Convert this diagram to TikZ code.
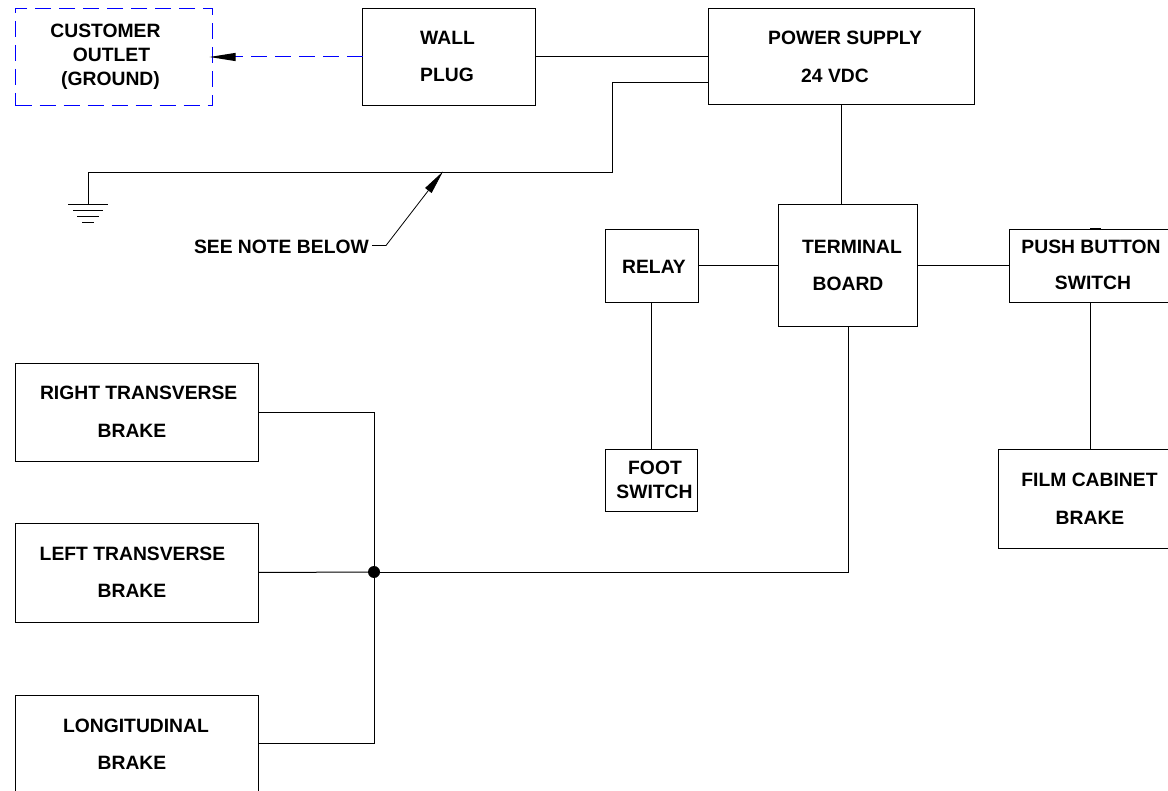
\documentclass[tikz,border=0pt]{standalone}
\usepackage{fontspec}
\setmainfont{Liberation Sans}
\usetikzlibrary{arrows.meta,calc}
\definecolor{dashblue}{RGB}{0,0,255}
\tikzset{
  boxshape/.style={draw=black,line width=1pt,rectangle,inner sep=0pt,outer sep=0pt},
  dashbox/.style={rectangle,draw=dashblue,line width=1pt,inner sep=0pt,outer sep=0pt,dash pattern=on 16pt off 8pt},
  boxtext/.style={font=\fontsize{19.3}{24}\selectfont\bfseries,inner sep=0pt,text=black,text height=14pt,text depth=0pt},
  wire/.style={draw=black,line width=1pt},
  dashwire/.style={draw=dashblue,line width=1pt,dash pattern=on 16pt off 8pt},
  longtip/.style={-{Triangle[length=#1,width=8pt,color=black]}}
}
% name, x1, y1, x2, y2, style
\newcommand{\bxnode}[6]{%
  \pgfmathsetmacro{\bcx}{(#2+#4)/2}\pgfmathsetmacro{\bcy}{(#3+#5)/2}%
  \pgfmathsetmacro{\bw}{#4-#2}\pgfmathsetmacro{\bh}{#5-#3}%
  \node[#6,minimum width=\bw pt,minimum height=\bh pt] (#1) at (\bcx,\bcy) {};
}
% name, x, y, text
\newcommand{\tline}[4]{\node[boxtext] (#1) at (#2,#3) {#4};}
\begin{document}
\begin{tikzpicture}[x=1pt,y=-1pt]
\useasboundingbox (0,0) rectangle (1168,791);
\clip (0,0) rectangle (1168,791);
\bxnode{outlet}{15.5}{8.5}{212.5}{106}{dashbox}
\bxnode{plug}{362.5}{8.5}{535.5}{106}{boxshape}
\bxnode{power}{708.5}{8.5}{974.5}{105}{boxshape}
\bxnode{terminal}{778.5}{204.5}{917.5}{327}{boxshape}
\bxnode{relay}{605.5}{229.5}{698}{302.5}{boxshape}
\bxnode{foot}{605.5}{449.5}{697}{512}{boxshape}
\bxnode{push}{1009.5}{229.5}{1180}{302.5}{boxshape}
\bxnode{film}{998}{449.5}{1190}{548}{boxshape}
\bxnode{rtb}{15.5}{364}{258.5}{462}{boxshape}
\bxnode{ltb}{15.5}{523}{258.5}{622}{boxshape}
\bxnode{lonb}{15.5}{695}{258.5}{810}{boxshape}
\tline{t1}{105.5}{31}{CUSTOMER}
\tline{t2}{111.5}{55}{OUTLET}
\tline{t3}{110.5}{79}{(GROUND)}
\tline{t4}{447.5}{38}{WALL}
\tline{t5}{447}{75}{PLUG}
\tline{t6}{845}{38}{POWER SUPPLY}
\tline{t7}{835}{76}{24 VDC}
\tline{t8}{852}{247}{TERMINAL}
\tline{t9}{848}{284}{BOARD}
\tline{t10}{654}{267}{RELAY}
\tline{t11}{655}{468}{FOOT}
\tline{t12}{654.5}{491.5}{SWITCH}
\tline{t13}{1091}{247}{PUSH BUTTON}
\tline{t14}{1093}{283}{SWITCH}
\tline{t15}{1089.5}{480}{FILM CABINET}
\tline{t16}{1090}{517}{BRAKE}
\tline{t17}{138.7}{393}{RIGHT TRANSVERSE}
\tline{t18}{132}{431}{BRAKE}
\tline{t19}{132.5}{553}{LEFT TRANSVERSE}
\tline{t20}{132}{590}{BRAKE}
\tline{t21}{136}{725}{LONGITUDINAL}
\tline{t22}{132}{762}{BRAKE}
\node[boxtext,anchor=east] (note) at (369,247) {SEE NOTE BELOW};
% connection points
\coordinate (pwrgnd) at (power.west |- 0,83);
\coordinate (gndtop) at (88,205);
\coordinate (junct) at (374,572);
\coordinate (bend) at (386,245.5);
\coordinate (tap) at (443,171.5);
% wiring
\draw[wire] (plug.east |- 0,57) -- (power.west |- 0,57);
\draw[dashwire,longtip=26pt] (plug.west |- 0,57) -- ($(outlet.east |- 0,57)+(-3,0)$);
\draw[wire] (pwrgnd) -| (612,173) -- (88,173) -- (gndtop);
\draw[wire] (power.south) -- (power.south |- terminal.north);
\draw[wire] (relay.east) -- (terminal.west |- relay.east);
\draw[wire] (terminal.east |- push.west) -- (push.west);
\draw[wire] (651,302.5) -- (651,449.5);
\draw[wire] (1090,302.5) -- (1090,449.5);
\draw[wire,line width=1.6pt] (1090,228.6) -- (1101,228.6);
\draw[wire] (rtb.east) -| (junct);
\draw[wire] (258.5,743) -| (junct);
\draw[wire] (ltb.east) -- (junct);
\draw[wire] (848,327) |- (junct);
\fill[black] (junct) circle (6pt);
% note leader
\draw[wire,line width=0.8pt,longtip=24pt] (372,245.5) -- (bend) -- (tap);
% ground symbol
\draw[wire] (68,205) -- (108,205);
\draw[wire] (73,211) -- (103,211);
\draw[wire] (77,217) -- (99,217);
\draw[wire] (82,223) -- (94,223);
\end{tikzpicture}
\end{document}
